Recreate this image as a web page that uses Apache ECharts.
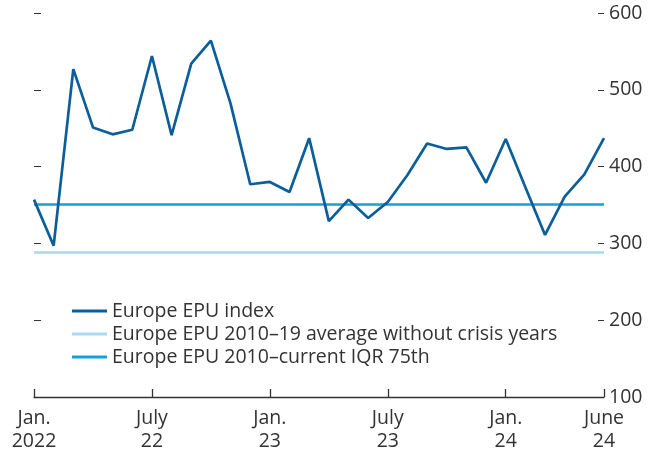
<!DOCTYPE html>
<html>
<head>
<meta charset="utf-8">
<script src="https://cdn.jsdelivr.net/npm/echarts@6/dist/echarts.min.js"></script>
<style>
  html, body { margin: 0; padding: 0; background: #fff; }
  #chart { width: 657px; height: 454px; }
</style>
</head>
<body>
<div id="chart"></div>
<script>
// Europe EPU index, monthly Jan 2022 – June 2024
const months = [
  '2022-01','2022-02','2022-03','2022-04','2022-05','2022-06',
  '2022-07','2022-08','2022-09','2022-10','2022-11','2022-12',
  '2023-01','2023-02','2023-03','2023-04','2023-05','2023-06',
  '2023-07','2023-08','2023-09','2023-10','2023-11','2023-12',
  '2024-01','2024-02','2024-03','2024-04','2024-05','2024-06'
];
const epuIndex = [
  357, 297, 527, 451, 442, 448,
  544, 441, 534, 564, 482, 377,
  380, 367, 437, 329, 357, 333,
  354, 389, 430, 423, 425, 379,
  436, 373, 311, 361, 390, 437
];
const avgNoCrisis = 288;   // 2010-19 average without crisis years
const iqr75 = 351;         // 2010-current IQR 75th

// x tick labels keyed by category index
const tickLabels = { 0: 'Jan.\n2022', 6: 'July\n22', 12: 'Jan.\n23', 18: 'July\n23', 24: 'Jan.\n24', 29: 'June\n24' };

const FONT = 'Open Sans';
const TEXT = '#333';
const C_INDEX = '#0a5f9b';
const C_AVG = '#a9d9f1';
const C_IQR = '#169fd9';

const showTick = (i) => i in tickLabels;

const chart = echarts.init(document.getElementById('chart'));
chart.setOption({
  animation: false,
  textStyle: { fontFamily: FONT },
  grid: { left: 34, right: 53, top: 13, bottom: 57 },
  legend: {
    orient: 'vertical',
    left: 67, top: 296,
    itemWidth: 35, itemHeight: 3, itemGap: 3,
    icon: 'rect',
    textStyle: { fontFamily: FONT, fontSize: 19.5, color: TEXT },
    data: ['Europe EPU index', 'Europe EPU 2010–19 average without crisis years', 'Europe EPU 2010–current IQR 75th']
  },
  xAxis: {
    type: 'category', data: months, boundaryGap: false,
    axisLine: { lineStyle: { color: TEXT, width: 1.3 } },
    axisTick: { inside: true, length: 8, interval: showTick, lineStyle: { color: TEXT, width: 1.3 } },
    axisLabel: {
      interval: showTick, formatter: (v, i) => tickLabels[i] || '',
      fontFamily: FONT, fontSize: 19.5, color: TEXT, lineHeight: 23, margin: 10
    }
  },
  yAxis: [
    {
      type: 'value', position: 'right', min: 100, max: 600, interval: 100,
      splitLine: { show: false },
      axisLine: { show: false },
      axisTick: { show: true, inside: true, length: 6, lineStyle: { color: TEXT } },
      axisLabel: { fontFamily: FONT, fontSize: 19.5, color: TEXT, margin: 5 }
    },
    {
      type: 'value', position: 'left', min: 100, max: 600, interval: 100,
      splitLine: { show: false },
      axisLine: { show: false },
      axisTick: { show: true, inside: true, length: 7, lineStyle: { color: TEXT } },
      axisLabel: { show: false }
    }
  ],
  series: [
    {
      name: 'Europe EPU 2010–19 average without crisis years', type: 'line', data: [],
      itemStyle: { color: C_AVG }, lineStyle: { color: C_AVG },
      markLine: { silent: true, symbol: 'none', label: { show: false },
        lineStyle: { color: C_AVG, width: 2.5, type: 'solid' },
        data: [{ yAxis: avgNoCrisis }] }
    },
    {
      name: 'Europe EPU 2010–current IQR 75th', type: 'line', data: [],
      itemStyle: { color: C_IQR }, lineStyle: { color: C_IQR },
      markLine: { silent: true, symbol: 'none', label: { show: false },
        lineStyle: { color: C_IQR, width: 2.5, type: 'solid' },
        data: [{ yAxis: iqr75 }] }
    },
    {
      name: 'Europe EPU index', type: 'line', data: epuIndex,
      showSymbol: false, z: 5,
      itemStyle: { color: C_INDEX }, lineStyle: { color: C_INDEX, width: 2.7 }
    }
  ]
});
</script>
</body>
</html>
